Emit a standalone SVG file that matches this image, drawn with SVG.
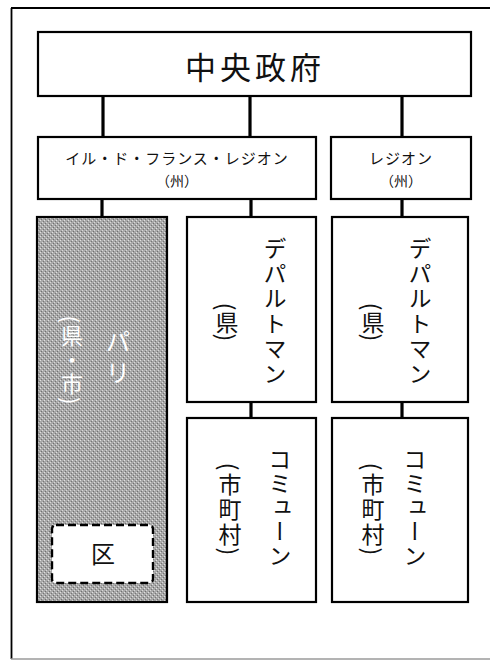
<svg xmlns="http://www.w3.org/2000/svg" width="490" height="661" viewBox="0 0 490 661">
  <defs>
    <pattern id="grain" width="4" height="4" patternUnits="userSpaceOnUse">
      <rect width="4" height="4" fill="#a8a8a8"/>
      <rect x="0" y="0" width="1" height="1" fill="#e0e0e0"/>
      <rect x="2" y="2" width="1" height="1" fill="#d8d8d8"/>
      <rect x="1" y="3" width="1" height="1" fill="#707070"/>
      <rect x="3" y="1" width="1" height="1" fill="#767676"/>
    </pattern>
  </defs>
  <style>
    .box { fill: #ffffff; stroke: #000000; stroke-width: 2.2; }
    .conn { stroke: #000000; stroke-width: 3.2; fill: none; }
    .t { font-family: "Noto Sans CJK JP", "Noto Sans", sans-serif; fill: #111111; }
    .v { writing-mode: vertical-rl; text-anchor: middle; }
    .w { fill: #ffffff; }
  </style>
  <rect x="0" y="0" width="490" height="661" fill="#ffffff"/>
  <g id="frame">
    <line x1="11" y1="8" x2="490" y2="8" stroke="#000" stroke-width="2.2"/>
    <line x1="11.5" y1="8" x2="11.5" y2="659" stroke="#000" stroke-width="1.8"/>
    <line x1="11" y1="659" x2="490" y2="659" stroke="#9a9a9a" stroke-width="1.5"/>
  </g>
  <g id="connectors">
    <line class="conn" x1="103" y1="96" x2="103" y2="138"/>
    <line class="conn" x1="250" y1="96" x2="250" y2="138"/>
    <line class="conn" x1="402" y1="96" x2="402" y2="138"/>
    <line class="conn" x1="102" y1="199" x2="102" y2="217"/>
    <line class="conn" x1="251" y1="199" x2="251" y2="217"/>
    <line class="conn" x1="402" y1="199" x2="402" y2="217"/>
    <line class="conn" x1="251" y1="402" x2="251" y2="418"/>
    <line class="conn" x1="402" y1="402" x2="402" y2="418"/>
  </g>
  <g id="central">
    <rect class="box" x="38" y="32" width="433" height="64"/>
    <text class="t" x="255" y="79" font-size="31" text-anchor="middle" letter-spacing="4">中央政府</text>
  </g>
  <g id="region-idf">
    <rect class="box" x="38" y="137" width="278" height="62"/>
    <text class="t" x="177" y="164" font-size="15" text-anchor="middle" letter-spacing="1">イル・ド・フランス・レジオン</text>
    <text class="t" x="177" y="186" font-size="14" text-anchor="middle" fill="#111111">（州）</text>
  </g>
  <g id="region">
    <rect class="box" x="331" y="137" width="140" height="62"/>
    <text class="t" x="401" y="164" font-size="15" text-anchor="middle" letter-spacing="1">レジオン</text>
    <text class="t" x="401" y="186" font-size="14" text-anchor="middle" fill="#111111">（州）</text>
  </g>
  <g id="paris">
    <rect x="37" y="217" width="130" height="385" fill="url(#grain)" stroke="#000" stroke-width="2.2"/>
    <text class="t v w" x="118" y="360" font-size="25" letter-spacing="6">パリ</text>
    <text class="t v w" x="72" y="361" font-size="22" letter-spacing="2">(県・市)</text>
  </g>
  <g id="ku">
    <rect x="52" y="525" width="101" height="58" rx="4" fill="#ffffff" stroke="#000" stroke-width="2.4" stroke-dasharray="8 4"/>
    <text class="t" x="103" y="563" font-size="24" text-anchor="middle">区</text>
  </g>
  <g id="departement-1">
    <rect class="box" x="187" y="217" width="129" height="185"/>
    <text class="t v" x="275" y="312" font-size="23" letter-spacing="2">デパルトマン</text>
    <text class="t v" x="227" y="322" font-size="23">(県)</text>
  </g>
  <g id="departement-2">
    <rect class="box" x="332" y="217" width="136" height="185"/>
    <text class="t v" x="420" y="312" font-size="23" letter-spacing="2">デパルトマン</text>
    <text class="t v" x="373" y="322" font-size="23">(県)</text>
  </g>
  <g id="commune-1">
    <rect class="box" x="187" y="418" width="129" height="184"/>
    <text class="t v" x="280" y="508" font-size="23" letter-spacing="1">コミューン</text>
    <text class="t v" x="230" y="510" font-size="23" letter-spacing="2">(市町村)</text>
  </g>
  <g id="commune-2">
    <rect class="box" x="332" y="418" width="136" height="184"/>
    <text class="t v" x="415" y="508" font-size="23" letter-spacing="1">コミューン</text>
    <text class="t v" x="373" y="510" font-size="23" letter-spacing="2">(市町村)</text>
  </g>
</svg>
